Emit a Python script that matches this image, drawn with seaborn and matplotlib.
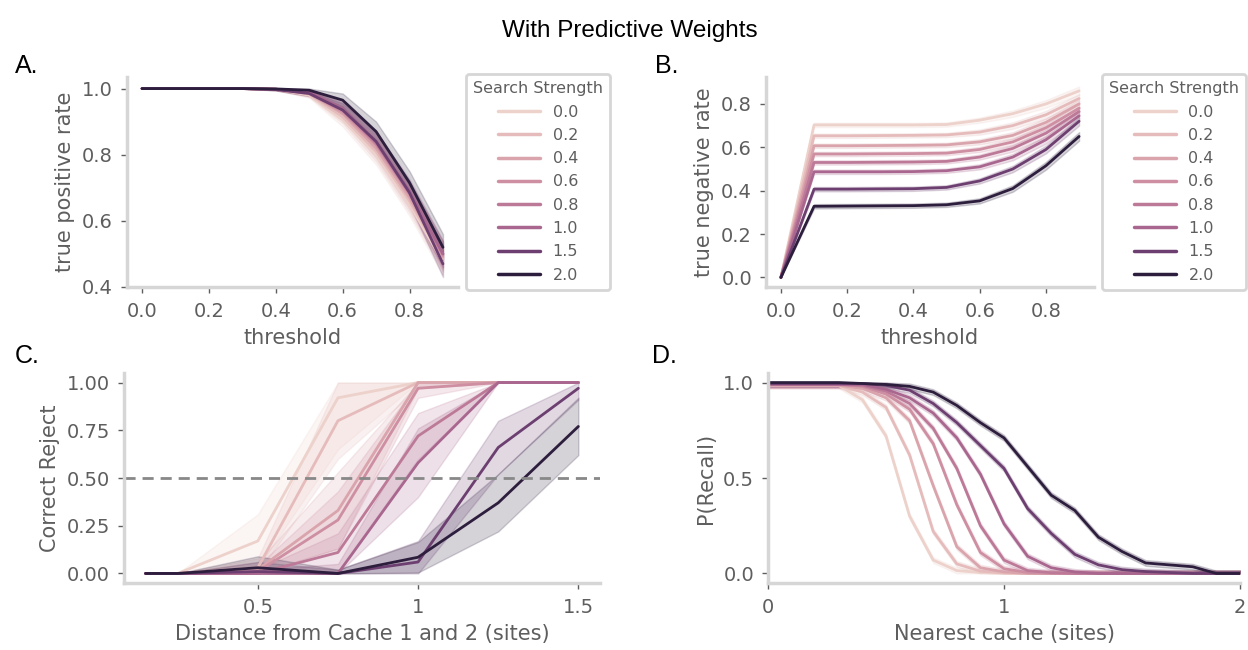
import numpy as np
import pandas as pd
import matplotlib
matplotlib.use("Agg")
import matplotlib.pyplot as plt
import seaborn as sns

# ---------------- data ----------------
strengths = [0.0, 0.2, 0.4, 0.6, 0.8, 1.0, 1.5, 2.0]

thresholds = [0.0, 0.1, 0.2, 0.3, 0.4, 0.5, 0.6, 0.7, 0.8, 0.9]
tpr_mean = [
    [1, 1, 1, 1, 0.998, 0.980, 0.905, 0.800, 0.650, 0.475],
    [1, 1, 1, 1, 0.998, 0.983, 0.915, 0.810, 0.660, 0.485],
    [1, 1, 1, 1, 0.998, 0.985, 0.925, 0.820, 0.670, 0.490],
    [1, 1, 1, 1, 0.998, 0.987, 0.930, 0.830, 0.680, 0.495],
    [1, 1, 1, 1, 0.998, 0.988, 0.937, 0.835, 0.685, 0.500],
    [1, 1, 1, 1, 0.998, 0.990, 0.940, 0.840, 0.690, 0.500],
    [1, 1, 1, 1, 0.997, 0.985, 0.935, 0.840, 0.685, 0.470],
    [1, 1, 1, 1, 0.999, 0.995, 0.965, 0.870, 0.715, 0.520],
]
tpr_err = [0, 0, 0, 0, 0.003, 0.008, 0.02, 0.03, 0.035, 0.04]

tnr_mean = [
    [0, 0.703, 0.703, 0.703, 0.703, 0.705, 0.725, 0.755, 0.800, 0.860],
    [0, 0.653, 0.653, 0.654, 0.655, 0.657, 0.670, 0.700, 0.750, 0.825],
    [0, 0.607, 0.607, 0.608, 0.609, 0.611, 0.625, 0.655, 0.715, 0.800],
    [0, 0.569, 0.569, 0.570, 0.571, 0.573, 0.590, 0.625, 0.690, 0.780],
    [0, 0.530, 0.530, 0.531, 0.532, 0.535, 0.555, 0.595, 0.665, 0.765],
    [0, 0.487, 0.487, 0.487, 0.488, 0.492, 0.510, 0.555, 0.635, 0.745],
    [0, 0.407, 0.407, 0.408, 0.409, 0.415, 0.445, 0.500, 0.590, 0.720],
    [0, 0.328, 0.329, 0.330, 0.331, 0.335, 0.353, 0.410, 0.515, 0.650],
]
tnr_err = [0, 0.01, 0.01, 0.01, 0.01, 0.01, 0.012, 0.015, 0.018, 0.02]

dist_x = [0.15, 0.25, 0.5, 0.75, 1.0, 1.25, 1.5]
reject_mean = [
    [0, 0, 0.17, 0.92, 1.00, 1.00, 1.00],
    [0, 0, 0.03, 0.80, 1.00, 1.00, 1.00],
    [0, 0, 0.02, 0.33, 1.00, 1.00, 1.00],
    [0, 0, 0.01, 0.28, 0.97, 1.00, 1.00],
    [0, 0, 0.00, 0.11, 0.72, 1.00, 1.00],
    [0, 0, 0.00, 0.00, 0.58, 1.00, 1.00],
    [0, 0, 0.01, 0.00, 0.06, 0.66, 0.97],
    [0, 0, 0.03, 0.00, 0.085, 0.37, 0.77],
]
reject_err = [
    [0, 0, 0.14, 0.27, 0.00, 0, 0],
    [0, 0, 0.05, 0.20, 0.03, 0, 0],
    [0, 0, 0.04, 0.20, 0.03, 0, 0],
    [0, 0, 0.03, 0.15, 0.05, 0, 0],
    [0, 0, 0.02, 0.10, 0.12, 0, 0],
    [0, 0, 0.02, 0.05, 0.18, 0, 0],
    [0, 0, 0.05, 0.02, 0.11, 0.14, 0.06],
    [0, 0, 0.06, 0.02, 0.08, 0.15, 0.15],
]

nearest_x = [0.0, 0.1, 0.2, 0.3, 0.4, 0.5, 0.6, 0.7, 0.8, 0.9, 1.0,
             1.1, 1.2, 1.3, 1.4, 1.5, 1.6, 1.7, 1.8, 1.9, 2.0]
recall_mean = [
    [0.985, 0.985, 0.985, 0.985, 0.91, 0.72, 0.30, 0.07, 0.015, 0.005, 0,
     0, 0, 0, 0, 0, 0, 0, 0, 0, 0],
    [0.985, 0.985, 0.985, 0.985, 0.95, 0.87, 0.62, 0.22, 0.05, 0.012, 0.003,
     0, 0, 0, 0, 0, 0, 0, 0, 0, 0],
    [0.985, 0.985, 0.985, 0.985, 0.97, 0.92, 0.80, 0.46, 0.14, 0.03, 0.008,
     0, 0, 0, 0, 0, 0, 0, 0, 0, 0],
    [0.99, 0.99, 0.99, 0.99, 0.98, 0.94, 0.86, 0.68, 0.36, 0.11, 0.025,
     0.005, 0, 0, 0, 0, 0, 0, 0, 0, 0],
    [0.99, 0.99, 0.99, 0.99, 0.985, 0.955, 0.89, 0.76, 0.55, 0.25, 0.07,
     0.015, 0.004, 0, 0, 0, 0, 0, 0, 0, 0],
    [0.99, 0.99, 0.99, 0.99, 0.99, 0.965, 0.92, 0.84, 0.71, 0.52, 0.26,
     0.09, 0.03, 0.008, 0, 0, 0, 0, 0, 0, 0],
    [0.995, 0.995, 0.995, 0.995, 0.995, 0.985, 0.96, 0.89, 0.79, 0.67, 0.55,
     0.34, 0.21, 0.10, 0.045, 0.02, 0.01, 0.005, 0, 0, 0],
    [1.0, 1.0, 1.0, 1.0, 0.995, 0.99, 0.98, 0.95, 0.88, 0.79, 0.71,
     0.56, 0.41, 0.33, 0.19, 0.115, 0.055, 0.045, 0.035, 0.0, 0.0],
]
recall_err = 0.015

HUE = "Search Strength"


def long_table(xs, means, errs, lo=0.0, hi=1.0):
    """Three samples per point (low, centre, high) so that seaborn's
    median estimator + 100% percentile interval reproduces line and band."""
    rows = []
    for s, row, erow in zip(strengths, means, errs):
        erow = erow if np.ndim(erow) else [erow] * len(xs)
        for x, m, e in zip(xs, row, erow):
            for v in (max(lo, m - e), m, min(hi, m + e)):
                rows.append((x, v, s))
    return pd.DataFrame(rows, columns=["x", "y", HUE])


# ---------------- style ----------------
sns.set_theme(style="ticks")
GREY_TXT = "#5e5e5e"
plt.rcParams.update({
    "font.family": ["DejaVu Sans"],
    "axes.edgecolor": "#d6d6d6",
    "axes.linewidth": 2.5,
    "axes.labelcolor": GREY_TXT,
    "axes.labelsize": 15,
    "axes.labelpad": 5,
    "xtick.color": GREY_TXT,
    "ytick.color": GREY_TXT,
    "xtick.labelsize": 14,
    "ytick.labelsize": 14,
    "xtick.major.size": 4,
    "ytick.major.size": 4,
    "xtick.major.width": 1,
    "ytick.major.width": 1,
    "xtick.major.pad": 7,
    "ytick.major.pad": 6,
    "legend.edgecolor": "#d6d6d6",
    "legend.framealpha": 1,
})

fig = plt.figure(figsize=(12.48, 6.5), dpi=100)
W, H = 1248, 650


def add_ax(l, r, t, b):
    return fig.add_axes([l / W, 1 - b / H, (r - l) / W, (b - t) / H])


axA = add_ax(127, 458, 77, 287)
axB = add_ax(766, 1094, 77, 287)
axC = add_ax(124, 600, 373, 583)
axD = add_ax(768, 1240, 373, 583)

line_kw = dict(x="x", y="y", hue=HUE, estimator="median",
               errorbar=("pi", 100), linewidth=2.0)

# A
sns.lineplot(data=long_table(thresholds, tpr_mean, [tpr_err] * 8),
             ax=axA, legend="full", **line_kw)
axA.set_ylim(0.4, 1.035)
axA.set_yticks([0.4, 0.6, 0.8, 1.0])
axA.set_xticks([0.0, 0.2, 0.4, 0.6, 0.8])
axA.set_xlabel("threshold")
axA.set_ylabel("true positive rate")

# B
sns.lineplot(data=long_table(thresholds, tnr_mean, [tnr_err] * 8),
             ax=axB, legend="full", **line_kw)
axB.set_yticks([0.0, 0.2, 0.4, 0.6, 0.8])
axB.set_xticks([0.0, 0.2, 0.4, 0.6, 0.8])
axB.set_xlabel("threshold")
axB.set_ylabel("true negative rate")

# C
sns.lineplot(data=long_table(dist_x, reject_mean, reject_err),
             ax=axC, legend=False, **line_kw)
axC.axhline(0.5, color="#888888", linestyle=(0, (4, 2.5)), linewidth=2)
axC.set_yticks([0.0, 0.25, 0.5, 0.75, 1.0])
axC.set_yticklabels(["0.00", "0.25", "0.50", "0.75", "1.00"])
axC.set_xticks([0.5, 1.0, 1.5])
axC.set_xticklabels(["0.5", "1", "1.5"])
axC.set_xlabel("Distance from Cache 1 and 2 (sites)")
axC.set_ylabel("Correct Reject")

# D
sns.lineplot(data=long_table(nearest_x, recall_mean, [recall_err] * 8),
             ax=axD, legend=False, **line_kw)
axD.set_xlim(0, 2)
axD.set_xticks([0, 1, 2])
axD.set_xticklabels(["0", "1", "2"])
axD.set_yticks([0.0, 0.5, 1.0])
axD.set_ylabel("P(Recall)")
axD.set_xlabel("Nearest cache (sites)")

for ax in (axA, axB, axC, axD):
    sns.despine(ax=ax)

for ax in (axA, axB):
    sns.move_legend(ax, "upper left", bbox_to_anchor=(1.024, 1.014),
                    borderaxespad=0, title="Search Strength", frameon=True,
                    fontsize=11.5, title_fontsize=11.5, labelspacing=0.52,
                    handlelength=2.6, borderpad=0.45)
    leg = ax.get_legend()
    leg.get_frame().set_linewidth(2)
    leg.get_title().set_color(GREY_TXT)
    for t in leg.get_texts():
        t.set_color(GREY_TXT)
    for h in leg.get_lines():
        h.set_linewidth(2.5)

head_font = ["Liberation Sans Narrow", "Liberation Sans", "DejaVu Sans"]
fig.text(0.505, 0.953, "With Predictive Weights", ha="center", va="center",
         fontsize=17.5, family=head_font, color="black")
for lab, x, y in [("A.", 15, 66), ("B.", 655, 66), ("C.", 15, 356), ("D.", 652, 356)]:
    fig.text(x / W, 1 - y / H, lab, ha="left", va="center",
             fontsize=18, family=head_font, color="black")

fig.savefig("out.png", dpi=100)
